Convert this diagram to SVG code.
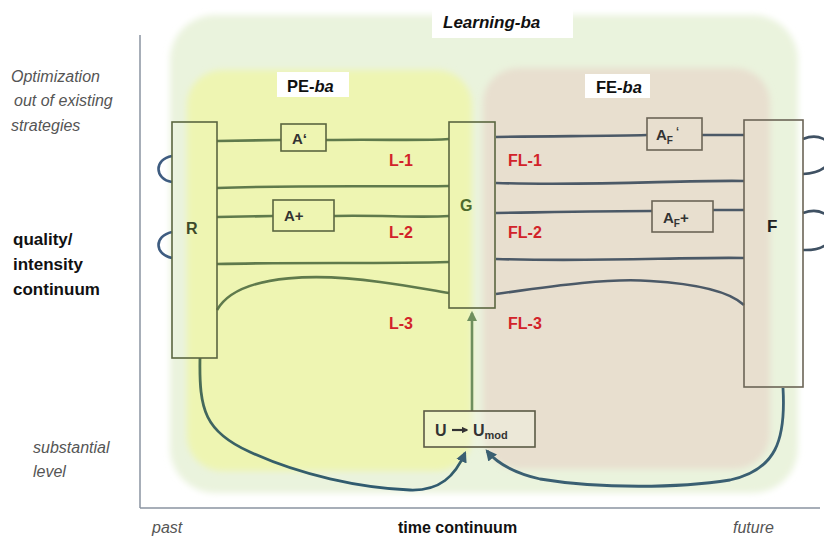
<svg xmlns="http://www.w3.org/2000/svg" width="824" height="538" viewBox="0 0 824 538">
<style>
.ax{fill:#555;font-family:"Liberation Sans",Arial,sans-serif;font-style:italic;font-size:16px}
.bl{fill:#111;font-family:"Liberation Sans",Arial,sans-serif;font-weight:bold}
.red{fill:#d2232a;font-family:"Liberation Sans",Arial,sans-serif;font-weight:bold;font-size:16px}
.box{fill:none;stroke:#5a6640;stroke-width:1.6}
.fbox{fill:none;stroke:#6b6456;stroke-width:1.6}
.gl{fill:none;stroke:#5f7a4c;stroke-width:2.6}
.bline{fill:none;stroke:#4b5967;stroke-width:2.6}
.loopL{fill:none;stroke:#3e5c80;stroke-width:2.6}
.loopR{fill:none;stroke:#3f5163;stroke-width:2.6}
.lbl{fill:#333;font-family:"Liberation Sans",Arial,sans-serif;font-weight:bold;font-size:15px}
</style>
<defs>
<filter id="soft" x="-5%" y="-5%" width="110%" height="110%"><feGaussianBlur stdDeviation="3"/></filter>
<linearGradient id="gL" x1="0" y1="0" x2="0" y2="1"><stop offset="0" stop-color="#4f7050"/><stop offset="1" stop-color="#2f5a70"/></linearGradient>
<marker id="aB" viewBox="0 0 10 10" refX="8" refY="5" markerWidth="4" markerHeight="4" orient="auto" markerUnits="strokeWidth"><path d="M0,0 L10,5 L0,10 z" fill="#3a5f72"/></marker>
<marker id="aG" viewBox="0 0 10 10" refX="8" refY="5" markerWidth="4" markerHeight="4" orient="auto" markerUnits="strokeWidth"><path d="M0,0 L10,5 L0,10 z" fill="#6e8f5e"/></marker>
<marker id="aK" viewBox="0 0 10 10" refX="8" refY="5" markerWidth="3" markerHeight="3" orient="auto" markerUnits="strokeWidth"><path d="M0,0 L10,5 L0,10 z" fill="#333"/></marker>
</defs>

<g id="axes">
<line x1="140" y1="35" x2="140" y2="508" stroke="#8a93a0" stroke-width="1.5"/>
<line x1="140" y1="508" x2="820" y2="508" stroke="#8a93a0" stroke-width="1.5"/>
</g>

<g id="learning-ba">
<rect x="170" y="15" width="628" height="478" rx="45" fill="#eaf3dd" filter="url(#soft)"/>
<rect x="432" y="6" width="141" height="32" fill="#fff"/>
<text x="443" y="28" class="bl" font-size="17" font-style="italic">Learning-ba</text>
</g>

<g id="pe-ba">
<rect x="187" y="70" width="285" height="401" rx="35" fill="#eef5b2" filter="url(#soft)"/>
<rect x="277" y="72" width="72" height="25" fill="#fff"/>
<text x="287" y="92" class="bl" font-size="16.5">PE-<tspan font-style="italic">ba</tspan></text>
</g>

<g id="fe-ba">
<rect x="483" y="68" width="287" height="401" rx="35" fill="#e8dfcf" filter="url(#soft)"/>
<rect x="585" y="74" width="65" height="24" fill="#fff"/>
<text x="596" y="93" class="bl" font-size="16.5">FE-<tspan font-style="italic">ba</tspan></text>
</g>

<g id="axis-labels">
<text class="ax" x="11" y="82">Optimization</text>
<text class="ax" x="14" y="106">out of existing</text>
<text class="ax" x="11" y="131">strategies</text>
<text class="bl" font-size="17" x="13" y="245">quality/</text>
<text class="bl" font-size="17" x="13" y="270">intensity</text>
<text class="bl" font-size="17" x="13" y="295">continuum</text>
<text class="ax" font-size="17" x="33" y="453">substantial</text>
<text class="ax" font-size="17" x="33" y="477">level</text>
<text class="ax" font-size="17" x="152" y="533">past</text>
<text class="bl" font-size="16" x="398" y="533">time continuum</text>
<text class="ax" font-size="17" x="733" y="533">future</text>
</g>

<g id="connectors">
<path class="loopL" d="M172,156 C154,159 154,179 172,182"/>
<path class="loopL" d="M172,232 C154,236 154,254 172,258"/>
<path class="loopR" d="M803,139 C835,126 848,172 803,174"/>
<path class="loopR" d="M803,213 C838,200 850,252 803,250"/>
<path class="gl" d="M217,141 L281,140 M326,140 C380,139 420,141 449,139"/>
<path class="gl" d="M217,188 C300,185 380,187 449,186"/>
<path class="gl" d="M217,217 L273,216 M334,216 C380,215 420,218 449,216"/>
<path class="gl" d="M217,264 C300,262 380,264 449,262"/>
<path class="gl" d="M217,310 C240,270 330,275 380,282 C410,286 430,290 449,293"/>
<path class="bline" d="M496,137 C560,136 610,136 647,135 M702,135 L744,135"/>
<path class="bline" d="M496,183 C600,186 680,180 744,181"/>
<path class="bline" d="M496,213 C560,212 610,211 652,211 M713,210 L744,210"/>
<path class="bline" d="M496,259 C600,262 680,257 744,258"/>
<path class="bline" d="M496,294 C560,285 610,278 650,281 C700,284 730,292 744,305"/>
<path d="M200,358 C199,410 205,432 250,452 C300,475 360,488 410,490 C440,491 455,476 465,453" fill="none" stroke="url(#gL)" stroke-width="2.8" marker-end="url(#aB)"/>
<path d="M783,388 C786,440 776,470 730,480 C680,488 600,489 540,479 C510,472 496,462 487,451" fill="none" stroke="#3a5f72" stroke-width="2.8" marker-end="url(#aB)"/>
<path d="M472,411 L472,313" fill="none" stroke="#6e8f5e" stroke-width="2.6" marker-end="url(#aG)"/>
</g>

<g id="node-R">
<rect class="box" x="172" y="122" width="45" height="236"/>
<text x="186" y="234" class="bl" font-size="16" style="fill:#3d4a2a">R</text>
</g>
<g id="node-G">
<rect class="box" x="449" y="122" width="46" height="186"/>
<text x="460" y="211" class="bl" font-size="16" style="fill:#4f6b2e">G</text>
</g>
<g id="node-F">
<rect class="fbox" x="744" y="120" width="59" height="267"/>
<text x="767" y="232" class="bl" font-size="17" style="fill:#222">F</text>
</g>
<g id="node-A1">
<rect class="box" x="281" y="124" width="45" height="27"/>
<text x="292" y="144" class="lbl">A‘</text>
</g>
<g id="node-A2">
<rect class="box" x="273" y="200" width="61" height="31"/>
<text x="284" y="221" class="lbl">A+</text>
</g>
<g id="node-AF1">
<rect class="fbox" x="647" y="118" width="55" height="32"/>
<text x="656" y="140" class="lbl">A<tspan font-size="10" dy="4">F</tspan><tspan dy="-9" font-size="11"> ‘</tspan></text>
</g>
<g id="node-AF2">
<rect class="fbox" x="652" y="201" width="61" height="31"/>
<text x="663" y="223" class="lbl">A<tspan font-size="10" dy="4">F</tspan><tspan dy="-4">+</tspan></text>
</g>
<g id="node-U">
<rect x="424" y="411" width="111" height="36" fill="#f3f6e6" fill-opacity="0.4" stroke="#5b5a45" stroke-width="1.6"/>
<text x="435" y="436" class="bl" font-size="16" style="fill:#333">U</text>
<path d="M452,430 L467,430" stroke="#333" stroke-width="2.2" marker-end="url(#aK)"/>
<text x="473" y="436" class="bl" font-size="16" style="fill:#333">U<tspan font-size="11" dy="3">mod</tspan></text>
</g>

<g id="edge-labels">
<text class="red" x="389" y="166">L-1</text>
<text class="red" x="389" y="238">L-2</text>
<text class="red" x="389" y="329">L-3</text>
<text class="red" x="508" y="166">FL-1</text>
<text class="red" x="508" y="238">FL-2</text>
<text class="red" x="508" y="329">FL-3</text>
</g>
</svg>
